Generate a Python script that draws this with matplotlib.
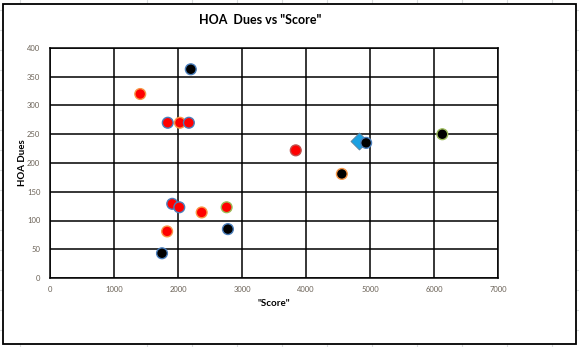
import matplotlib
matplotlib.use('Agg')
import matplotlib.pyplot as plt
from matplotlib.patches import Rectangle

# HOA dues against "Score" for each property
score = [2200, 1410, 1840, 2030, 2170, 3840, 4940, 6130, 4560,
         1910, 2020, 2370, 2760, 1830, 2780, 1750]
dues = [363, 320, 270, 270, 270, 222, 235, 250, 181,
        129, 123, 114, 123, 81, 85, 43]
fill = ['black', 'red', 'red', 'red', 'red', 'red', 'black', 'black', 'black',
        'red', 'red', 'red', 'red', 'red', 'black', 'black']
edge = ['#4a7ebb', '#f79646', '#4a7ebb', '#f79646', '#4a7ebb', '#c0504d', '#4a7ebb', '#9bbb59', '#f79646',
        '#4a7ebb', '#4a7ebb', '#f79646', '#9bbb59', '#f79646', '#4a7ebb', '#4a7ebb']

# the one highlighted property
hl_score = [4830]
hl_dues = [238]

x_ticks = [0, 1000, 2000, 3000, 4000, 5000, 6000, 7000]
y_ticks = [0, 50, 100, 150, 200, 250, 300, 350, 400]

W, H = 579, 347
plt.rcParams['font.family'] = ['Lato', 'DejaVu Sans']
fig = plt.figure(figsize=(W / 100, H / 100), dpi=100)

# spreadsheet cells behind the chart
bg = fig.add_axes([0, 0, 1, 1])
bg.set_xlim(0, W)
bg.set_ylim(H, 0)
bg.axis('off')
for gx in [20] + list(range(147, W, 45)):
    bg.axvline(gx, color='#dadcdd', lw=0.8)
for gy in range(10, H, 20):
    bg.axhline(gy, color='#dadcdd', lw=0.8)
bg.add_patch(Rectangle((2.5, 3.5), 573.5, 340.5, facecolor='white',
                       edgecolor='black', lw=1.3, zorder=3))

ax = fig.add_axes([50 / W, 1 - 278 / H, 448 / W, 230 / H], zorder=2)
ax.set_xlim(0, 7000)
ax.set_ylim(0, 400)
ax.set_xticks(x_ticks)
ax.set_yticks(y_ticks)
ax.grid(True, color='black', lw=1.1)
ax.set_axisbelow(True)
for s in ax.spines.values():
    s.set_linewidth(1.1)
ax.tick_params(length=0, labelsize=5.5, labelcolor='#6b6257')
ax.tick_params(axis='x', pad=6)
ax.tick_params(axis='y', pad=7)

ax.scatter(score, dues, s=60, c=fill, edgecolors=edge, linewidths=1.0, zorder=3)
ax.scatter(hl_score, hl_dues, s=75, marker='D', c='#1ba1e2',
           edgecolors='#5f7f9a', linewidths=0.6, zorder=2)

ax.set_xlabel('"Score"', fontsize=7, fontweight='bold', labelpad=4)
ax.set_ylabel('HOA Dues', fontsize=7, fontweight='bold', labelpad=0)
fig.text(260 / W, 1 - 20 / H, 'HOA  Dues vs "Score"', fontsize=9,
         fontweight='bold', ha='center', va='center')

fig.savefig('out.png', dpi=100)
